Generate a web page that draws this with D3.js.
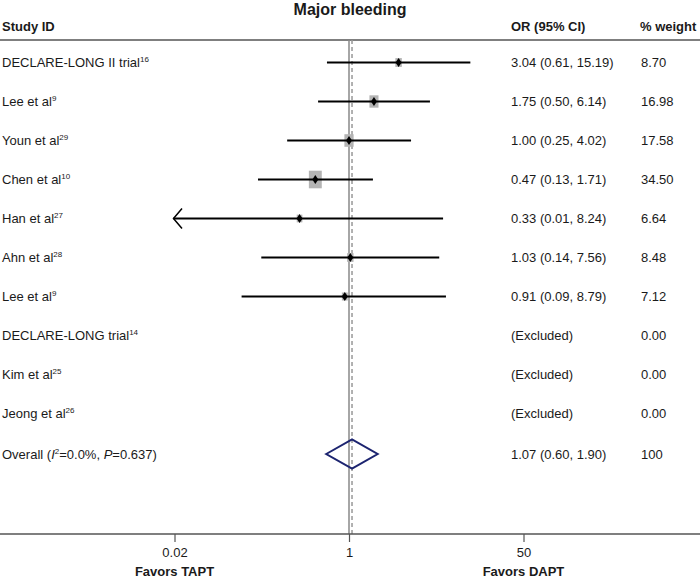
<!DOCTYPE html>
<html>
<head>
<meta charset="utf-8">
<script src="https://cdn.jsdelivr.net/npm/d3@7"></script>
<style>
  body { margin: 0; background: #fff; }
  svg { font-family: "Liberation Sans", Arial, sans-serif; }
</style>
</head>
<body>
<script>
// data
var studies = ["DECLARE-LONG II trial", "Lee et al", "Youn et al", "Chen et al", "Han et al",
               "Ahn et al", "Lee et al", "DECLARE-LONG trial", "Kim et al", "Jeong et al"];
var refs = ["16", "9", "29", "10", "27", "28", "9", "14", "25", "26"];
var ors = [3.04, 1.75, 1.00, 0.47, 0.33, 1.03, 0.91, null, null, null];
var lows = [0.61, 0.50, 0.25, 0.13, 0.01, 0.14, 0.09, null, null, null];
var highs = [15.19, 6.14, 4.02, 1.71, 8.24, 7.56, 8.79, null, null, null];
var weights = ["8.70", "16.98", "17.58", "34.50", "6.64", "8.48", "7.12", "0.00", "0.00", "0.00"];
var overall = { or: 1.07, lo: 0.60, hi: 1.90, weight: "100" };
var tickValues = [0.02, 1, 50];
var tickLabels = ["0.02", "1", "50"];

var width = 700, height = 578;
var svg = d3.select('body').append('svg').attr('width', width).attr('height', height);

var x = d3.scaleLog().domain([0.02, 50]).range([174.5, 523.5]);
var rowIdx = d3.range(studies.length + 1);
var y = d3.scalePoint().domain(rowIdx).range([62.5, 452.5]);

var ink = '#1a1a1a';
var topY = 40, axisY = 534;

// title and headers
svg.append('text').attr('x', 350).attr('y', 15).attr('text-anchor', 'middle')
    .attr('font-size', 16).attr('font-weight', 'bold').attr('fill', ink).text('Major bleeding');
var heads = [["Study ID", 2], ["OR (95% CI)", 511], ["% weight", 640]];
heads.forEach(function(h) {
    svg.append('text').attr('x', h[1]).attr('y', 31).attr('font-size', 13)
        .attr('font-weight', 'bold').attr('fill', ink).text(h[0]);
});
svg.append('line').attr('x1', 0).attr('x2', width).attr('y1', topY).attr('y2', topY)
    .attr('stroke', '#555').attr('stroke-width', 1.3);

// reference lines
svg.append('line').attr('x1', x(1)).attr('x2', x(1)).attr('y1', topY).attr('y2', axisY)
    .attr('stroke', '#888').attr('stroke-width', 1.5);
svg.append('line').attr('x1', x(overall.or)).attr('x2', x(overall.or)).attr('y1', topY).attr('y2', axisY)
    .attr('stroke', '#999').attr('stroke-width', 1.5).attr('stroke-dasharray', '4,3');

// study rows
var rows = svg.append('g');
studies.forEach(function(s, i) {
    var yc = y(i);
    var t = rows.append('text').attr('x', 2).attr('y', yc + 4.5).attr('font-size', 13).attr('fill', ink);
    t.append('tspan').text(s);
    t.append('tspan').attr('font-size', 8).attr('dy', -5).text(refs[i]);

    var ci = ors[i] == null ? "(Excluded)"
        : d3.format('.2f')(ors[i]) + " (" + d3.format('.2f')(lows[i]) + ", " + d3.format('.2f')(highs[i]) + ")";
    rows.append('text').attr('x', 511).attr('y', yc + 4.5).attr('font-size', 13).attr('fill', ink).text(ci);
    rows.append('text').attr('x', 641).attr('y', yc + 4.5).attr('font-size', 13).attr('fill', ink).text(weights[i]);

    if (ors[i] == null) return;
    var w = +weights[i];
    var bw = 2.2 * Math.sqrt(w), bh = 3.0 * Math.sqrt(w);
    rows.append('rect').attr('x', x(ors[i]) - bw / 2).attr('y', yc - bh / 2)
        .attr('width', bw).attr('height', bh).attr('fill', '#b4b4b4');
    var clipped = lows[i] < x.domain()[0];
    var lx = clipped ? x(x.domain()[0]) - 1 : x(lows[i]);
    rows.append('line').attr('x1', lx).attr('x2', x(highs[i])).attr('y1', yc).attr('y2', yc)
        .attr('stroke', '#000').attr('stroke-width', 2);
    if (clipped) {
        rows.append('path').attr('d', 'M' + (lx + 8.5) + ',' + (yc - 10) + 'L' + lx + ',' + yc + 'L' + (lx + 8.5) + ',' + (yc + 10))
            .attr('fill', 'none').attr('stroke', '#000').attr('stroke-width', 1.5);
    }
    var cx = x(ors[i]);
    rows.append('path').attr('d', 'M' + cx + ',' + (yc - 4.5) + 'L' + (cx + 3) + ',' + yc + 'L' + cx + ',' + (yc + 4.5) + 'L' + (cx - 3) + ',' + yc + 'Z')
        .attr('fill', '#000');
});

// overall row
var oy = y(studies.length) + 1.5;
var ot = svg.append('text').attr('x', 2).attr('y', oy + 4.5).attr('font-size', 13).attr('fill', ink);
ot.append('tspan').text('Overall (');
ot.append('tspan').attr('font-style', 'italic').text('I');
ot.append('tspan').attr('font-size', 8).attr('dy', -5).text('2');
ot.append('tspan').attr('dy', 5).text('=0.0%, ');
ot.append('tspan').attr('font-style', 'italic').text('P');
ot.append('tspan').text('=0.637)');
svg.append('text').attr('x', 511).attr('y', oy + 4.5).attr('font-size', 13).attr('fill', ink)
    .text(d3.format('.2f')(overall.or) + " (" + d3.format('.2f')(overall.lo) + ", " + d3.format('.2f')(overall.hi) + ")");
svg.append('text').attr('x', 641).attr('y', oy + 4.5).attr('font-size', 13).attr('fill', ink).text(overall.weight);
svg.append('path')
    .attr('d', 'M' + x(overall.lo) + ',' + oy + 'L' + x(overall.or) + ',' + (oy - 14.5) + 'L' + x(overall.hi) + ',' + oy + 'L' + x(overall.or) + ',' + (oy + 14.5) + 'Z')
    .attr('fill', 'none').attr('stroke', '#1c2470').attr('stroke-width', 2);

// x axis
svg.append('line').attr('x1', 0).attr('x2', width).attr('y1', axisY).attr('y2', axisY)
    .attr('stroke', '#555').attr('stroke-width', 1.3);
var axis = d3.axisBottom(x).tickValues(tickValues).tickSize(8)
    .tickFormat(function(d, i) { return tickLabels[i]; });
var ag = svg.append('g').attr('transform', 'translate(0,' + axisY + ')').call(axis);
ag.select('.domain').remove();
ag.selectAll('.tick line').attr('stroke', '#555').attr('stroke-width', 1.2);
ag.selectAll('.tick text').attr('font-size', 13).attr('fill', ink).attr('dy', 0).attr('y', 23)
    .attr('font-family', '"Liberation Sans", Arial, sans-serif');

svg.append('text').attr('x', x(0.02)).attr('y', 576).attr('text-anchor', 'middle')
    .attr('font-size', 13).attr('font-weight', 'bold').attr('fill', ink).text('Favors TAPT');
svg.append('text').attr('x', x(50)).attr('y', 576).attr('text-anchor', 'middle')
    .attr('font-size', 13).attr('font-weight', 'bold').attr('fill', ink).text('Favors DAPT');
</script>
</body>
</html>
